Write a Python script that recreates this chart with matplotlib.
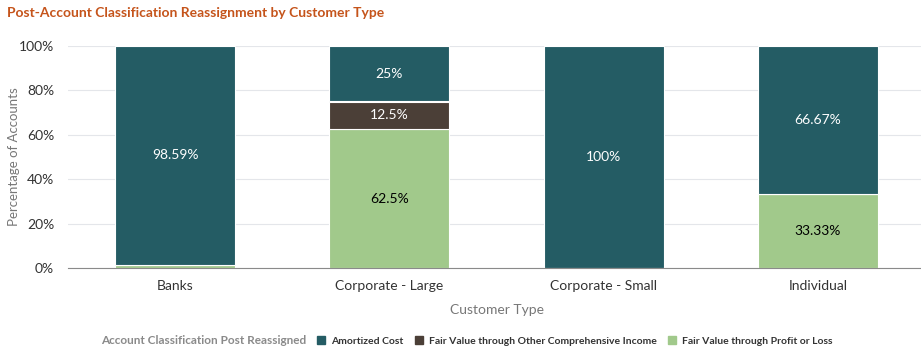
import matplotlib.pyplot as plt
import numpy as np

# data
customer_types = ["Banks", "Corporate - Large", "Corporate - Small", "Individual"]
amortized_cost = [98.59, 25, 100, 66.67]
fair_value_oci = [0, 12.5, 0, 0]
fair_value_pl = [1.41, 62.5, 0, 33.33]

labels_amortized = ["98.59%", "25%", "100%", "66.67%"]
labels_oci = ["", "12.5%", "", ""]
labels_pl = ["", "62.5%", "", "33.33%"]

c_am = "#245c64"
c_oci = "#4b3f37"
c_pl = "#a1c98b"

plt.rcParams['font.family'] = ['Lato', 'DejaVu Sans']

fig = plt.figure(figsize=(9.21, 3.52), dpi=100)
ax = fig.add_axes([68 / 921, 1 - 268 / 352, (925 - 68) / 921, 222 / 352])

x = np.arange(len(customer_types))
w = 0.56
pl = np.array(fair_value_pl)
oci = np.array(fair_value_oci)
am = np.array(amortized_cost)

ax.bar(x, pl, w, color=c_pl, edgecolor="white", linewidth=0.8, zorder=3)
ax.bar(x, oci, w, bottom=pl, color=c_oci, edgecolor="white", linewidth=0.8, zorder=3)
ax.bar(x, am, w, bottom=pl + oci, color=c_am, edgecolor="white", linewidth=0.8, zorder=3)

for i in range(len(x)):
    if labels_pl[i]:
        ax.text(x[i], pl[i] / 2, labels_pl[i], ha="center", va="center", fontsize=10, color="black", zorder=4)
    if labels_oci[i]:
        ax.text(x[i], pl[i] + oci[i] / 2, labels_oci[i], ha="center", va="center", fontsize=10, color="white", zorder=4)
    if labels_amortized[i]:
        ax.text(x[i], pl[i] + oci[i] + am[i] / 2, labels_amortized[i], ha="center", va="center", fontsize=10, color="white", zorder=4)

ax.set_xlim(-0.5, 3.5)
ax.set_ylim(0, 100)
ax.set_yticks([0, 20, 40, 60, 80, 100])
ax.set_yticklabels(["0%", "20%", "40%", "60%", "80%", "100%"])
ax.set_xticks(x)
ax.set_xticklabels(customer_types)
ax.tick_params(axis="both", length=0, labelsize=10, colors="#333333")
ax.tick_params(axis="y", pad=10)
ax.tick_params(axis="x", pad=9)
ax.grid(axis="y", color="#e4e6ea", linewidth=0.8, zorder=0)
for s in ["top", "right", "left"]:
    ax.spines[s].set_visible(False)
ax.spines["bottom"].set_color("#8a8a8a")
ax.spines["bottom"].set_zorder(5)

ax.set_xlabel("Customer Type", fontsize=10, color="#777777", labelpad=8)
ax.set_ylabel("Percentage of Accounts", fontsize=9.5, color="#777777")
ax.yaxis.set_label_coords((20 - 68) / 857, 0.5)

fig.text(7 / 921, 1 - 13 / 352, "Post-Account Classification Reassignment by Customer Type",
         fontsize=10, fontweight="bold", color="#c5541b", va="center", ha="left")

# legend
fig.text(101 / 921, 1 - 341 / 352, "Account Classification Post Reassigned",
         fontsize=8.5, fontweight="bold", color="#8a8a8a", va="center", ha="left")
handles = [plt.Rectangle((0, 0), 1, 1, color=c) for c in [c_am, c_oci, c_pl]]
leg = fig.legend(handles, ["Amortized Cost", "Fair Value through Other Comprehensive Income",
                           "Fair Value through Profit or Loss"],
                 loc="center left", bbox_to_anchor=(317 / 921, 1 - 341 / 352), ncol=3,
                 frameon=False, handlelength=0.75, handleheight=0.75, handletextpad=0.6,
                 columnspacing=1.1, borderpad=0, borderaxespad=0,
                 prop={"weight": "bold", "size": 7.5})
for t in leg.get_texts():
    t.set_color("#333333")

fig.savefig("out.png", dpi=100)
